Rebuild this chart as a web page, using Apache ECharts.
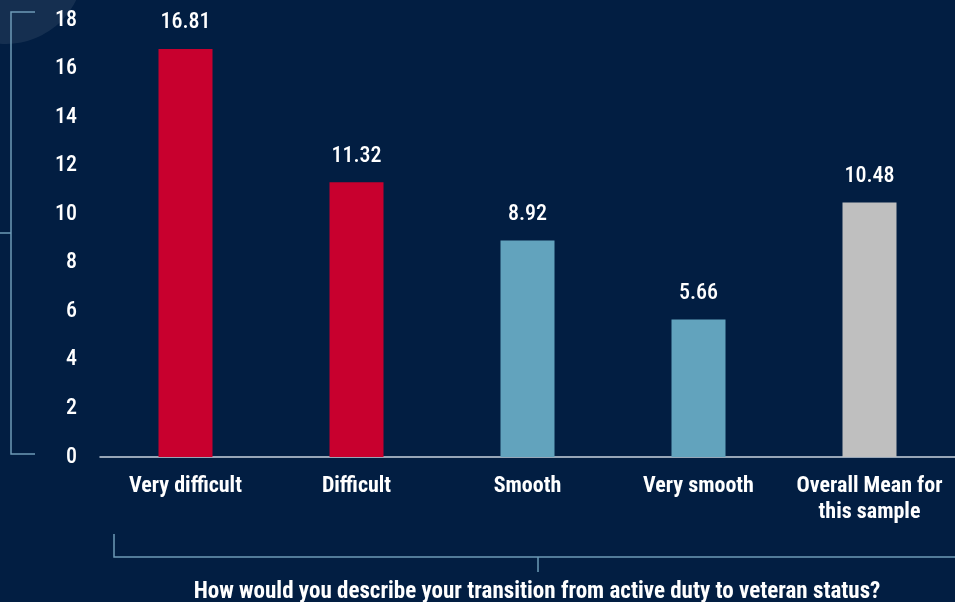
<!DOCTYPE html>
<html>
<head>
<meta charset="utf-8">
<script src="https://cdn.jsdelivr.net/npm/echarts@6/dist/echarts.min.js"></script>
<style>
html,body{margin:0;padding:0;background:#021e42;}
#chart{width:955px;height:602px;}
</style>
</head>
<body>
<div id="chart"></div>
<script>
const categories = ['Very difficult', 'Difficult', 'Smooth', 'Very smooth', 'Overall Mean for\nthis sample'];
const values = [16.81, 11.32, 8.92, 5.66, 10.48];
const barColors = ['#c8002e', '#c8002e', '#62a3bd', '#62a3bd', '#bfbfbf'];
const titleText = 'How would you describe your transition from active duty to veteran status?';

const FONT = '"Roboto Condensed", "Liberation Sans Narrow", "DejaVu Sans Condensed", sans-serif';
const BRACKET = '#6d9bb6';

const chart = echarts.init(document.getElementById('chart'));
chart.setOption({
  backgroundColor: '#021e42',
  animation: false,
  grid: { left: 100, top: 20, width: 867, bottom: 145 },
  xAxis: {
    type: 'category',
    data: categories,
    axisLine: { lineStyle: { color: '#c9d3de', width: 1.5 } },
    axisTick: { show: false },
    axisLabel: {
      color: '#ffffff', fontFamily: FONT, fontSize: 22, fontWeight: 'bold',
      margin: 16, lineHeight: 26, interval: 0
    }
  },
  yAxis: {
    type: 'value',
    min: 0, max: 18, interval: 2,
    splitLine: { show: false },
    axisLine: { show: false },
    axisTick: { show: false },
    axisLabel: { color: '#ffffff', fontFamily: FONT, fontSize: 22, fontWeight: 500, margin: 23 }
  },
  series: [{
    type: 'bar',
    barWidth: 54,
    data: values.map((v, i) => ({ value: v, itemStyle: { color: barColors[i] } })),
    label: {
      show: true, position: 'top', distance: 15,
      color: '#ffffff', fontFamily: FONT, fontSize: 22, fontWeight: 500,
      formatter: p => p.value.toFixed(2)
    }
  }],
  graphic: [
    { type: 'circle', z: -1, shape: { cx: 6, cy: -34, r: 78 }, style: { fill: 'rgba(255,255,255,0.08)' } },
    { type: 'polyline', shape: { points: [[35, 12], [11, 12], [11, 454], [35, 454]] }, style: { stroke: BRACKET, lineWidth: 1.5, fill: null } },
    { type: 'line', shape: { x1: 0, y1: 233, x2: 11, y2: 233 }, style: { stroke: BRACKET, lineWidth: 1.5 } },
    { type: 'polyline', shape: { points: [[114, 534], [114, 557], [960, 557]] }, style: { stroke: BRACKET, lineWidth: 1.5, fill: null } },
    { type: 'line', shape: { x1: 538, y1: 557, x2: 538, y2: 572 }, style: { stroke: BRACKET, lineWidth: 1.5 } },
    { type: 'text', x: 537, y: 592,
      style: { text: titleText, fill: '#ffffff', font: 'bold 23px ' + FONT, textAlign: 'center', textVerticalAlign: 'middle' } }
  ]
});
</script>
</body>
</html>
